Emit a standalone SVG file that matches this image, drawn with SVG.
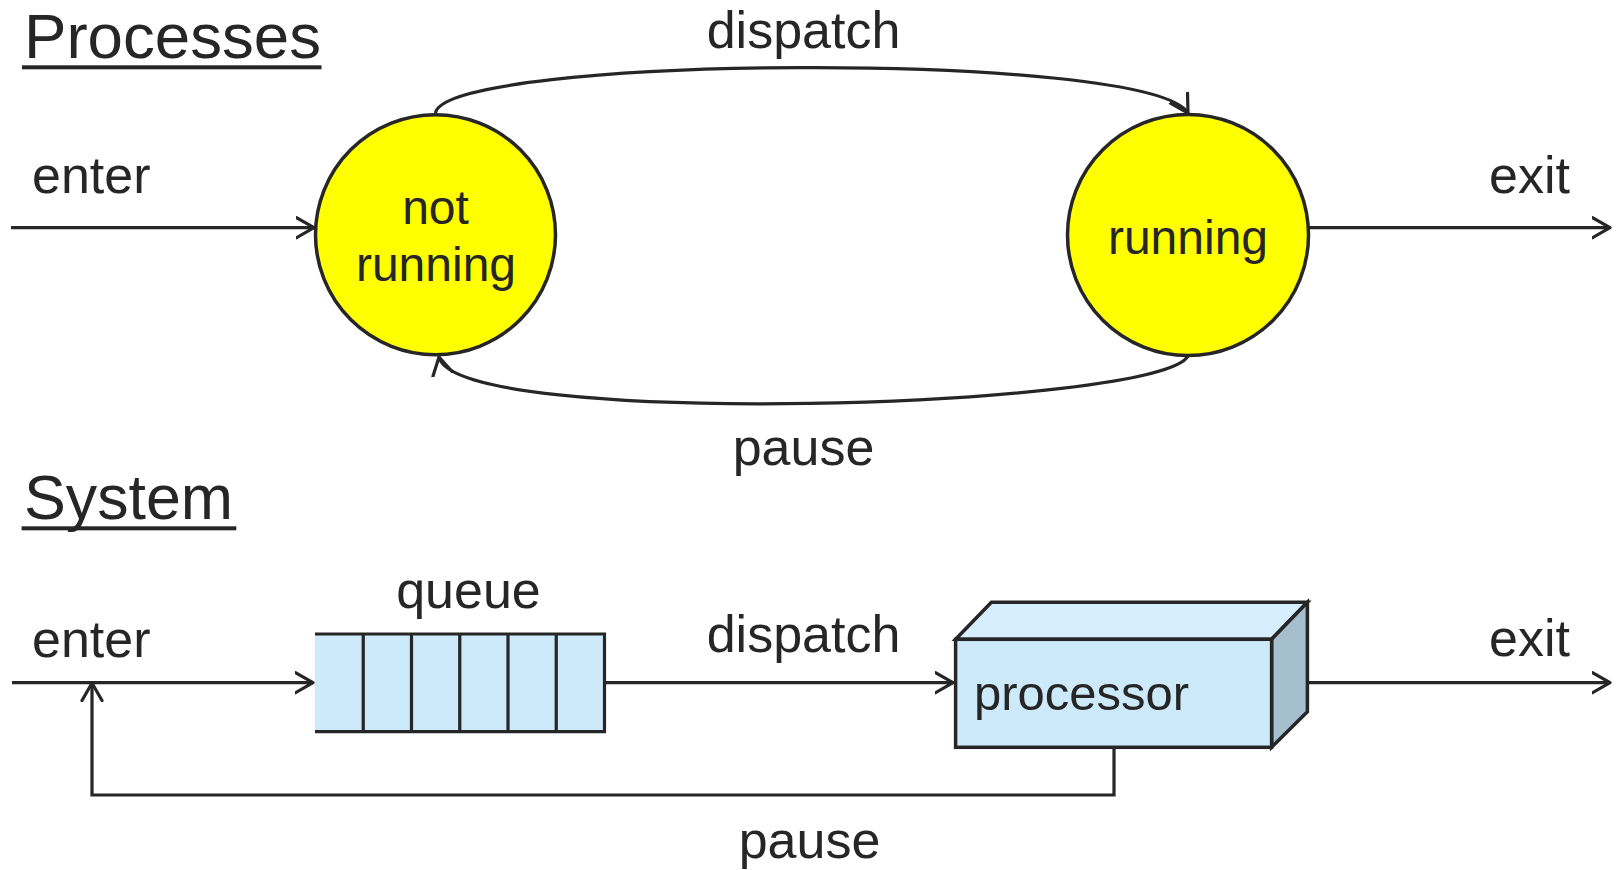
<svg xmlns="http://www.w3.org/2000/svg" width="1618" height="870" viewBox="0 0 1618 870">
<defs>
<style>
text{font-family:"Liberation Sans",Arial,sans-serif;fill:#262626}
.title{font-size:63px}
.lbl{font-size:52px}
.node{font-size:48px}
.mid{text-anchor:middle}
.ln{fill:none;stroke:#262626;stroke-width:3.2}
.edge{fill:none;stroke:#262626;stroke-width:3.2;marker-end:url(#arr)}
.circ{fill:#ffff00;stroke:#262626;stroke-width:3.5}
.box{stroke:#262626;stroke-width:3.5;stroke-linejoin:miter}
</style>
<marker id="arr" viewBox="0 0 20 24" refX="18.5" refY="12" markerWidth="20" markerHeight="24" markerUnits="userSpaceOnUse" orient="auto">
<path d="M1 2 L18.5 12 L1 22" fill="none" stroke="#262626" stroke-width="3.2" stroke-linecap="round" stroke-linejoin="round"/>
</marker>
</defs>
<rect width="1618" height="870" fill="#ffffff"/>

<g id="titles">
<text class="title" x="24" y="58" textLength="297" lengthAdjust="spacingAndGlyphs">Processes</text>
<rect x="22" y="65.3" width="299.5" height="4" fill="#262626"/>
<text class="title" x="24" y="519" textLength="209" lengthAdjust="spacingAndGlyphs">System</text>
<rect x="21.6" y="526.3" width="214.7" height="4" fill="#262626"/>
</g>

<g id="connectors">
<path class="edge" d="M11 227.7 L314 227.7"/>
<path class="edge" d="M435.5 113 C445 55 1150 50 1188 113"/>
<path class="edge" d="M1188 356 C1160 408 455 430 439 357"/>
<path class="edge" d="M1308 227.7 L1610 227.7"/>
<path class="edge" d="M12 682.7 L313 682.7"/>
<path class="edge" d="M604.5 682.7 L953 682.7"/>
<path class="edge" d="M1307.4 682.7 L1610 682.7"/>
<path class="edge" d="M1114 747.3 L1114 795 L92 795 L92 683"/>
</g>

<g id="labels">
<text class="lbl" x="32" y="193">enter</text>
<text class="lbl" x="1489" y="193">exit</text>
<text class="lbl mid" x="803.5" y="48">dispatch</text>
<text class="lbl mid" x="803.5" y="465">pause</text>
<text class="lbl" x="32" y="657">enter</text>
<text class="lbl mid" x="468.5" y="608">queue</text>
<text class="lbl mid" x="803.5" y="652">dispatch</text>
<text class="lbl" x="1489" y="656">exit</text>
<text class="lbl mid" x="809.5" y="858">pause</text>
</g>

<g id="not-running">
<circle class="circ" cx="435.5" cy="234.7" r="120"/>
<text class="node mid" x="435.5" y="224">not</text>
<text class="node mid" x="436" y="281">running</text>
</g>

<g id="running">
<circle class="circ" cx="1188" cy="235" r="120.5"/>
<text class="node mid" x="1188" y="254">running</text>
</g>

<g id="queue">
<rect x="315" y="634" width="289.5" height="97.7" fill="#cdeafb"/>
<path class="ln" d="M315 634 H604.5 V731.7 H315 M363.25 634 V731.7 M411.5 634 V731.7 M459.75 634 V731.7 M508 634 V731.7 M556.25 634 V731.7"/>
</g>

<g id="processor">
<path class="box" fill="#d6eefd" d="M955.6 639.3 L991.4 602.3 L1307.4 602.3 L1271.6 639.3 Z"/>
<path class="box" fill="#a6bfcf" d="M1271.6 639.3 L1307.4 602.3 L1307.4 711.7 L1271.6 747.3 Z"/>
<rect class="box" x="955.6" y="639.3" width="316" height="108" fill="#cdeafb"/>
<text class="node" x="974" y="710" style="font-size:49px">processor</text>
</g>
</svg>
